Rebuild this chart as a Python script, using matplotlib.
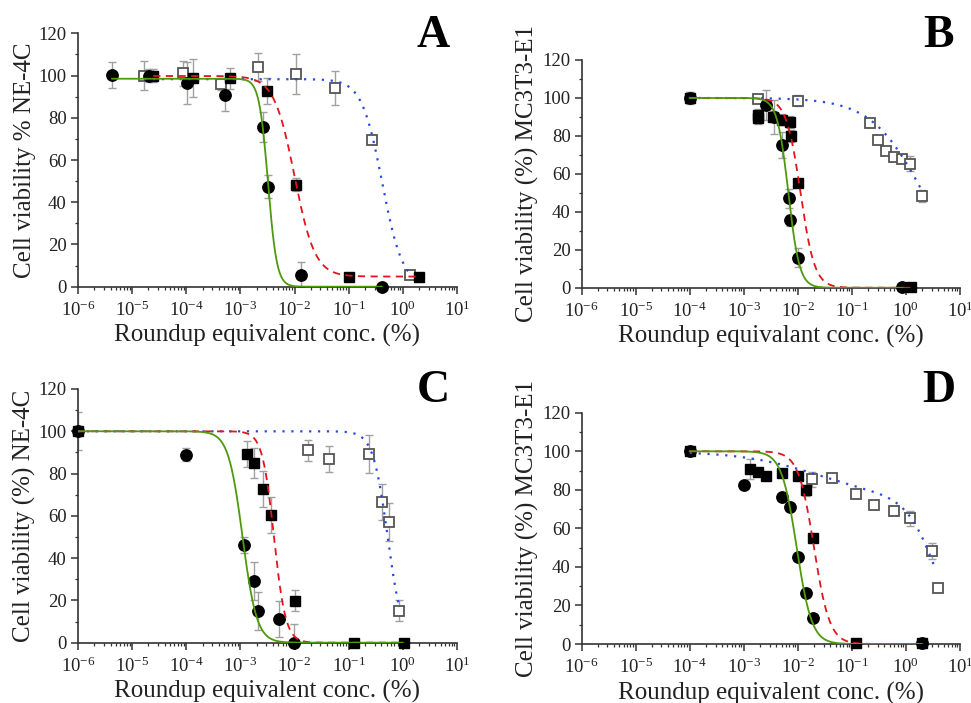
import numpy as np
import matplotlib
matplotlib.use('Agg')
import matplotlib.pyplot as plt
from matplotlib.ticker import LogLocator, MultipleLocator, NullFormatter

plt.rcParams['font.family'] = ['Liberation Serif', 'DejaVu Serif']
plt.rcParams['mathtext.fontset'] = 'custom'
plt.rcParams['mathtext.rm'] = 'Liberation Serif'
plt.rcParams['mathtext.it'] = 'Liberation Serif:italic'
plt.rcParams['mathtext.bf'] = 'Liberation Serif:bold'
plt.rcParams['axes.unicode_minus'] = False

# ---- Panel A (NE-4C) ----
a_circ_x = [4.3e-6, 2.06e-5, 1.05e-4, 5.1e-4, 2.58e-3, 3.27e-3, 1.3e-2, 0.41]
a_circ_y = [100.3, 100, 96.3, 90.6, 75.5, 47.3, 5.7, 0]
a_circ_e = [6, 3, 10, 7.5, 7, 5.5, 6, 0]
a_sq_x = [2.44e-5, 1.32e-4, 6.5e-4, 3.16e-3, 1.07e-2, 0.1, 2.0]
a_sq_y = [100, 99, 98.7, 92.7, 48.3, 4.7, 4.7]
a_sq_e = [3, 9, 5, 6, 3, 0, 0]
a_open_x = [1.66e-5, 8.7e-5, 4.3e-4, 2.14e-3, 1.07e-2, 5.5e-2, 0.272, 1.37]
a_open_y = [100, 101, 96, 104, 100.7, 94, 69.5, 5.5]
a_open_e = [7, 6, 3, 6.5, 9.5, 8, 2, 0]

# ---- Panel B (MC3T3-E1) ----
b_circ_x = [1e-4, 2.57e-3, 3.6e-3, 5.0e-3, 6.9e-3, 7.2e-3, 1.0e-2, 0.86]
b_circ_y = [100.1, 96.3, 90, 75.2, 47.1, 35.5, 15.8, 0.5]
b_circ_e = [3, 8, 9, 7, 5, 3, 5, 0]
b_sq_x = [1e-4, 1.86e-3, 1.86e-3, 3.5e-3, 5.2e-3, 7.2e-3, 7.4e-3, 1.02e-2, 1.23]
b_sq_y = [100, 91, 89.5, 90.1, 88.6, 87.3, 80, 55, 0.5]
b_sq_e = [3, 3, 3, 3, 3, 3, 3, 2, 0]
b_open_x = [1.86e-3, 1.02e-2, 0.216, 0.31, 0.425, 0.6, 0.86, 1.2, 2.0]
b_open_y = [99.6, 98.6, 86.6, 77.8, 72.2, 69, 67.6, 65.4, 48.3]
b_open_e = [2, 3, 2, 2, 2, 2, 2, 4, 3]

# ---- Panel C (NE-4C) ----
c_circ_x = [1e-6, 1e-4, 1.17e-3, 1.82e-3, 2.09e-3, 5.1e-3, 9.8e-3]
c_circ_y = [100, 88.9, 46.2, 29.2, 15.1, 11.0, 0]
c_circ_e = [9, 3, 4, 9, 9, 8.5, 9]
c_sq_x = [1e-6, 1.3e-3, 1.82e-3, 2.65e-3, 3.68e-3, 1.0e-2, 0.123, 1.03]
c_sq_y = [100, 89.2, 85.1, 72.5, 60.2, 19.9, 0, 0]
c_sq_e = [0, 6, 7, 8.5, 8.5, 5, 0, 0]
c_open_x = [1.74e-2, 4.27e-2, 0.24, 0.41, 0.56, 0.84]
c_open_y = [91.1, 86.9, 89.1, 66.5, 57.2, 15.1]
c_open_e = [5, 6, 9, 8.5, 9, 5]

# ---- Panel D (MC3T3-E1) ----
d_circ_x = [1e-4, 1e-3, 5e-3, 7.2e-3, 1.02e-2, 1.42e-2, 1.88e-2, 2.02]
d_circ_y = [99.9, 82.3, 76.4, 71.1, 45, 26.3, 13.5, 0.3]
d_circ_e = [1, 1, 1, 1, 1, 1, 1, 0]
d_sq_x = [1e-4, 1.3e-3, 1.81e-3, 2.57e-3, 5.1e-3, 1.0e-2, 1.42e-2, 1.88e-2, 0.119, 2.02]
d_sq_y = [100, 90.8, 89, 87, 88.7, 87.2, 79.7, 54.8, 0.3, 0.3]
d_sq_e = [0, 5, 2, 2, 2, 2, 3, 2, 0, 0]
d_open_x = [1.81e-2, 4.37e-2, 0.119, 0.257, 0.612, 1.19, 3.0, 4.0]
d_open_y = [85.4, 86.3, 77.8, 72.3, 68.8, 65.2, 48.2, 28.9]
d_open_e = [4, 2, 2, 2, 2, 4, 4, 0]

# fitted dose-response parameters: top, bottom, log EC50, hill slope, log x range
a_fits = {'circ': (98.5, 0, -2.49, 5.3, -5.37, -0.39),
          'sq': (99.8, 4.8, -2.0, 2.3, -4.61, 0.30),
          'open': (98.3, 0, -0.38, 2.3, -4.78, 0.14)}
b_fits = {'circ': (100, 0, -2.175, 4.2, -4.0, -0.06),
          'sq': (100, 0, -1.95, 3.3, -4.0, 0.09),
          'open': (100, 0, 0.32, 0.9, -4.0, 0.30)}
c_fits = {'circ': (100, 0, -2.96, 3.3, -6.0, 0.0),
          'sq': (100, 0, -2.38, 4.0, -6.0, 0.0),
          'open': (100, 0, -0.28, 3.2, -6.0, -0.06)}
d_fits = {'circ': (100, 0, -2.02, 3.1, -4.0, 0.30),
          'sq': (100, 0, -1.70, 3.0, -4.0, 0.30),
          'open': None}
# panel D open squares follow a two-phase fit: fraction, logEC50 and slope of each phase
d_open_phases = [(0.25, -1.6, 0.6), (0.75, 0.55, 1.6)]
d_open_range = (-4.0, 0.55)

GREEN = '#4f9a0a'
RED = '#e3141c'
BLUE = '#2a48e0'
ERR = '#a0a0a0'


def hill(logx, top, bottom, logc, h):
    return bottom + (top - bottom) / (1 + 10 ** (h * (logx - logc)))


def fit_line(params):
    top, bottom, logc, h, lo, hi = params
    lx = np.linspace(lo, hi, 400)
    return 10 ** lx, hill(lx, top, bottom, logc, h)


def draw_panel(ax, data, fits, ylabel, xlabel, extra_open=None):
    (cx, cy, ce), (sx, sy, se), (ox, oy, oe) = data

    # error bars
    for x, y, e in [(ox, oy, oe), (cx, cy, ce), (sx, sy, se)]:
        ax.errorbar(x, y, yerr=e, fmt='none', ecolor=ERR, elinewidth=1.0,
                    capsize=2.8, capthick=1.0, zorder=2)

    # markers
    ax.plot(ox, oy, 's', ms=7.0, mfc='white', mec='#555555', mew=1.3,
            ls='none', clip_on=False, zorder=3)
    ax.plot(cx, cy, 'o', ms=8.2, color='black', ls='none', clip_on=False, zorder=3)
    ax.plot(sx, sy, 's', ms=7.6, color='black', ls='none', clip_on=False, zorder=3)

    # fitted curves
    if fits['open'] is not None:
        x, y = fit_line(fits['open'])
    else:
        lx = np.linspace(extra_open[1][0], extra_open[1][1], 400)
        y = 100 * sum(f / (1 + 10 ** (h * (lx - c))) for f, c, h in extra_open[0])
        x = 10 ** lx
    ax.plot(x, y, color=BLUE, lw=1.6, ls=(0, (1, 3)), zorder=4)
    x, y = fit_line(fits['sq'])
    ax.plot(x, y, color=RED, lw=1.3, ls=(0, (4, 3)), zorder=4)
    x, y = fit_line(fits['circ'])
    ax.plot(x, y, color=GREEN, lw=1.3, zorder=4)

    ax.set_xscale('log')
    ax.set_xlim(1e-6, 1e1)
    ax.set_ylim(0, 120)
    ax.xaxis.set_major_locator(LogLocator(base=10, numticks=20))
    ax.xaxis.set_minor_locator(LogLocator(base=10, subs=np.arange(2, 10), numticks=20))
    ax.xaxis.set_minor_formatter(NullFormatter())
    ax.yaxis.set_major_locator(MultipleLocator(20))
    ax.yaxis.set_minor_locator(MultipleLocator(10))

    for side in ['top', 'right']:
        ax.spines[side].set_visible(False)
    for side in ['left', 'bottom']:
        ax.spines[side].set_linewidth(1.2)
        ax.spines[side].set_color('#333333')
    ax.tick_params(which='major', direction='out', length=5, width=1.1,
                   labelsize=13.5, colors='#333333', labelcolor='#222222', pad=3)
    ax.tick_params(axis='x', which='major', pad=5)
    ax.tick_params(which='minor', direction='out', length=2.5, width=0.9, colors='#333333')

    ax.set_ylabel(ylabel, fontsize=18, color='#222222')
    ax.set_xlabel(xlabel, fontsize=18, color='#222222', labelpad=3)
    ax.yaxis.set_label_coords(-0.112, 0.5)


fig = plt.figure(figsize=(9.71, 7.03), dpi=100)
axA = fig.add_axes([0.0803, 0.5922, 0.3903, 0.3604])
axB = fig.add_axes([0.5990, 0.5907, 0.3896, 0.3240])
axC = fig.add_axes([0.0803, 0.0858, 0.3903, 0.3609])
axD = fig.add_axes([0.5990, 0.0839, 0.3896, 0.3290])

draw_panel(axA, [(a_circ_x, a_circ_y, a_circ_e), (a_sq_x, a_sq_y, a_sq_e),
                 (a_open_x, a_open_y, a_open_e)], a_fits,
           'Cell viability % NE-4C', 'Roundup equivalent conc. (%)')
draw_panel(axB, [(b_circ_x, b_circ_y, b_circ_e), (b_sq_x, b_sq_y, b_sq_e),
                 (b_open_x, b_open_y, b_open_e)], b_fits,
           'Cell viability (%) MC3T3-E1', 'Roundup equivalant conc. (%)')
draw_panel(axC, [(c_circ_x, c_circ_y, c_circ_e), (c_sq_x, c_sq_y, c_sq_e),
                 (c_open_x, c_open_y, c_open_e)], c_fits,
           'Cell viability (%) NE-4C', 'Roundup equivalent conc. (%)')
draw_panel(axD, [(d_circ_x, d_circ_y, d_circ_e), (d_sq_x, d_sq_y, d_sq_e),
                 (d_open_x, d_open_y, d_open_e)], d_fits,
           'Cell viability (%) MC3T3-E1', 'Roundup equivalent conc. (%)',
           extra_open=(d_open_phases, d_open_range))

# panel letters
for letter, x, y in [('A', 0.446, 0.933), ('B', 0.967, 0.933),
                     ('C', 0.446, 0.428), ('D', 0.967, 0.428)]:
    fig.text(x, y, letter, fontsize=33, fontweight='bold', ha='center', va='baseline')

fig.savefig('out.png', dpi=100)
